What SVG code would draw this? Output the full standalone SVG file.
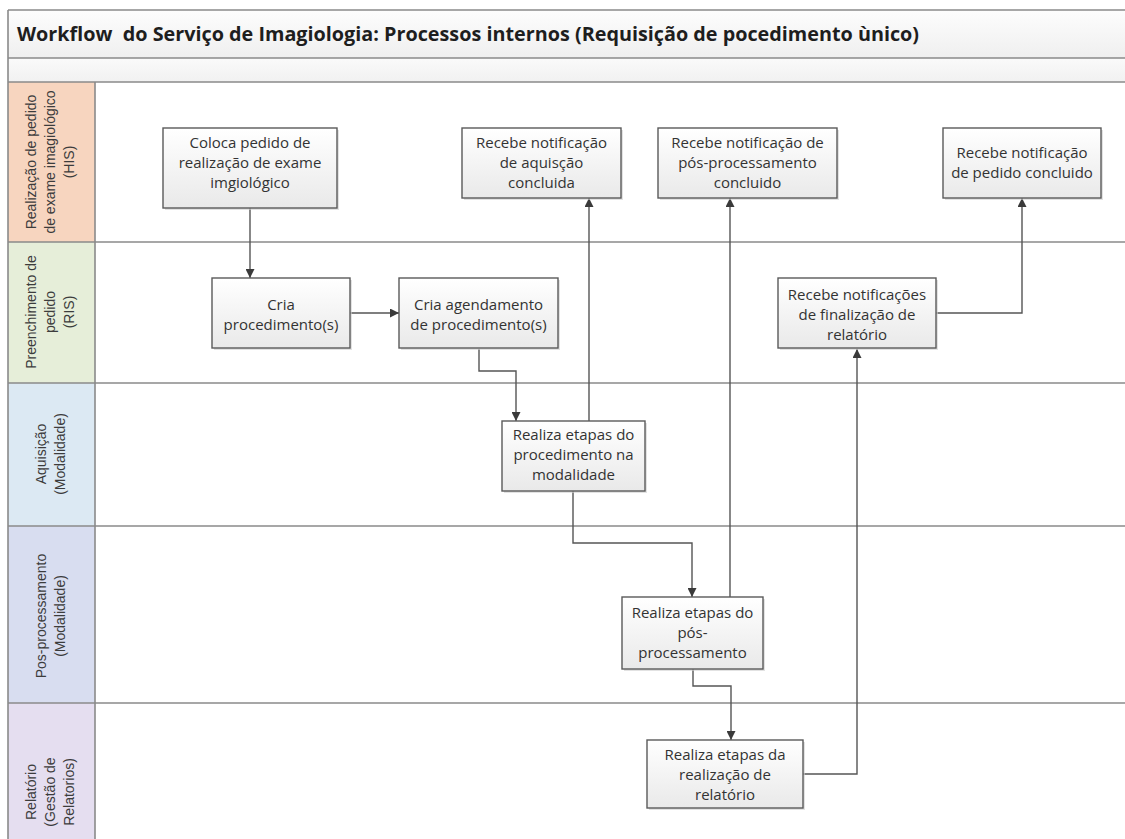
<svg xmlns="http://www.w3.org/2000/svg" width="1125" height="839" viewBox="0 0 1125 839">
  <defs>
    <linearGradient id="boxFill" x1="0" y1="0" x2="0" y2="1">
      <stop offset="0" stop-color="#ffffff"/>
      <stop offset="1" stop-color="#e9e9e9"/>
    </linearGradient>
    <linearGradient id="bandFill" x1="0" y1="0" x2="0" y2="1">
      <stop offset="0" stop-color="#fdfdfd"/>
      <stop offset="1" stop-color="#efefef"/>
    </linearGradient>
    <linearGradient id="subFill" x1="0" y1="0" x2="0" y2="1">
      <stop offset="0" stop-color="#fafafa"/>
      <stop offset="1" stop-color="#f1f1f1"/>
    </linearGradient>
    <marker id="arrow" viewBox="0 0 10 10" refX="10" refY="5" markerUnits="userSpaceOnUse" markerWidth="9" markerHeight="9" orient="auto">
      <path d="M0,0 L10,5 L0,10 z" fill="#3a3a3a"/>
    </marker>
    <style>
      .box { fill: url(#boxFill); stroke: #5a5a5a; stroke-width: 1.4; }
      .shadow { fill: #cfcfcf; opacity: 0.6; }
      .label { font-family: "Open Sans", "Noto Sans", sans-serif; font-size: 15px; fill: #333333; text-anchor: middle; }
      .lane-label { font-family: "Liberation Sans", Arial, sans-serif; font-size: 14px; fill: #3c3c3c; text-anchor: middle; }
      .title { font-family: "Open Sans", "Noto Sans", sans-serif; font-size: 19.8px; font-weight: bold; fill: #1e1e1e; white-space: pre; }
      .rule { stroke: #8a8a8a; stroke-width: 1.6; fill: none; }
      .conn { stroke: #555555; stroke-width: 1.4; fill: none; marker-end: url(#arrow); }
    </style>
  </defs>

  <rect x="0" y="0" width="1125" height="839" fill="#ffffff"/>

  <!-- title band and empty sub-band -->
  <g id="title-band">
    <rect x="8" y="10" width="1117" height="48" fill="url(#bandFill)"/>
    <rect x="8" y="58" width="1117" height="24" fill="url(#subFill)"/>
    <text class="title" x="17" y="41" xml:space="preserve">Workflow  do Serviço de Imagiologia: Processos internos (Requisição de pocedimento ùnico)</text>
  </g>

  <!-- lane header cells -->
  <g id="lane-headers">
    <rect x="8" y="82" width="87" height="160" fill="#f7d5bf"/>
    <rect x="8" y="242" width="87" height="141" fill="#e6eed9"/>
    <rect x="8" y="383" width="87" height="143" fill="#dce9f3"/>
    <rect x="8" y="526" width="87" height="177" fill="#d8ddf0"/>
    <rect x="8" y="703" width="87" height="136" fill="#e5def0"/>
  </g>

  <!-- frame and lane rules -->
  <g id="lane-rules">
    <path class="rule" d="M8,10 H1125 M8,58 H1125 M8,82 H1125 M8,242 H1125 M8,383 H1125 M8,526 H1125 M8,703 H1125"/>
    <path class="rule" d="M8,10 V839 M95,82 V839"/>
  </g>

  <!-- lane titles -->
  <g id="lane-his">
    <text class="lane-label" transform="translate(36,162) rotate(-90)">Realização de pedido</text>
    <text class="lane-label" transform="translate(55,162) rotate(-90)">de exame imagiológico</text>
    <text class="lane-label" transform="translate(74,162) rotate(-90)">(HIS)</text>
  </g>
  <g id="lane-ris">
    <text class="lane-label" transform="translate(36,312) rotate(-90)">Preenchimento de</text>
    <text class="lane-label" transform="translate(55,312) rotate(-90)">pedido</text>
    <text class="lane-label" transform="translate(74,312) rotate(-90)">(RIS)</text>
  </g>
  <g id="lane-aquisicao">
    <text class="lane-label" transform="translate(46,454) rotate(-90)">Aquisição</text>
    <text class="lane-label" transform="translate(65,454) rotate(-90)">(Modalidade)</text>
  </g>
  <g id="lane-pos">
    <text class="lane-label" transform="translate(46,616) rotate(-90)">Pos-processamento</text>
    <text class="lane-label" transform="translate(65,616) rotate(-90)">(Modalidade)</text>
  </g>
  <g id="lane-relatorio">
    <text class="lane-label" transform="translate(36,792) rotate(-90)">Relatório</text>
    <text class="lane-label" transform="translate(55,792) rotate(-90)">(Gestão de</text>
    <text class="lane-label" transform="translate(74,792) rotate(-90)">Relatorios)</text>
  </g>

  <!-- connectors -->
  <g id="connectors">
    <path class="conn" d="M250,208 V278"/>
    <path class="conn" d="M350,313 H399"/>
    <path class="conn" d="M479,349 V371 H516 V421"/>
    <path class="conn" d="M589,421 V198"/>
    <path class="conn" d="M573,491 V543 H692 V597"/>
    <path class="conn" d="M730,597 V198"/>
    <path class="conn" d="M693,669 V686 H731 V740"/>
    <path class="conn" d="M803,774 H857 V349"/>
    <path class="conn" d="M936,313 H1022 V198"/>
  </g>

  <!-- process nodes -->
  <g id="node-coloca-pedido">
    <rect class="shadow" x="165" y="130" width="174" height="80"/>
    <rect class="box" x="163" y="128" width="174" height="80"/>
    <text class="label" x="250" y="148">Coloca pedido de</text>
    <text class="label" x="250" y="168">realização de exame</text>
    <text class="label" x="250" y="188">imgiológico</text>
  </g>
  <g id="node-notif-aquisicao">
    <rect class="shadow" x="464" y="130" width="159" height="70"/>
    <rect class="box" x="462" y="128" width="159" height="70"/>
    <text class="label" x="541.5" y="148">Recebe notificação</text>
    <text class="label" x="541.5" y="168">de aquisção</text>
    <text class="label" x="541.5" y="188">concluida</text>
  </g>
  <g id="node-notif-pos">
    <rect class="shadow" x="660" y="130" width="179" height="70"/>
    <rect class="box" x="658" y="128" width="179" height="70"/>
    <text class="label" x="747.5" y="148">Recebe notificação de</text>
    <text class="label" x="747.5" y="168">pós-processamento</text>
    <text class="label" x="747.5" y="188">concluido</text>
  </g>
  <g id="node-notif-pedido">
    <rect class="shadow" x="945" y="130" width="158" height="70"/>
    <rect class="box" x="943" y="128" width="158" height="70"/>
    <text class="label" x="1022" y="158">Recebe notificação</text>
    <text class="label" x="1022" y="178">de pedido concluido</text>
  </g>
  <g id="node-cria-procedimento">
    <rect class="shadow" x="214" y="280" width="138" height="70"/>
    <rect class="box" x="212" y="278" width="138" height="70"/>
    <text class="label" x="281" y="310">Cria</text>
    <text class="label" x="281" y="330">procedimento(s)</text>
  </g>
  <g id="node-cria-agendamento">
    <rect class="shadow" x="401" y="280" width="159" height="70"/>
    <rect class="box" x="399" y="278" width="159" height="70"/>
    <text class="label" x="478.5" y="310">Cria agendamento</text>
    <text class="label" x="478.5" y="330">de procedimento(s)</text>
  </g>
  <g id="node-notif-relatorio">
    <rect class="shadow" x="780" y="280" width="158" height="70"/>
    <rect class="box" x="778" y="278" width="158" height="70"/>
    <text class="label" x="857" y="300">Recebe notificações</text>
    <text class="label" x="857" y="320">de finalização de</text>
    <text class="label" x="857" y="340">relatório</text>
  </g>
  <g id="node-etapas-procedimento">
    <rect class="shadow" x="504" y="423" width="143" height="70"/>
    <rect class="box" x="502" y="421" width="143" height="70"/>
    <text class="label" x="573.5" y="440">Realiza etapas do</text>
    <text class="label" x="573.5" y="460">procedimento na</text>
    <text class="label" x="573.5" y="480">modalidade</text>
  </g>
  <g id="node-etapas-pos">
    <rect class="shadow" x="624" y="599" width="141" height="72"/>
    <rect class="box" x="622" y="597" width="141" height="72"/>
    <text class="label" x="692.5" y="618">Realiza etapas do</text>
    <text class="label" x="692.5" y="638">pós-</text>
    <text class="label" x="692.5" y="658">processamento</text>
  </g>
  <g id="node-etapas-relatorio">
    <rect class="shadow" x="649" y="742" width="156" height="68"/>
    <rect class="box" x="647" y="740" width="156" height="68"/>
    <text class="label" x="725" y="760">Realiza etapas da</text>
    <text class="label" x="725" y="780">realização de</text>
    <text class="label" x="725" y="800">relatório</text>
  </g>
</svg>
